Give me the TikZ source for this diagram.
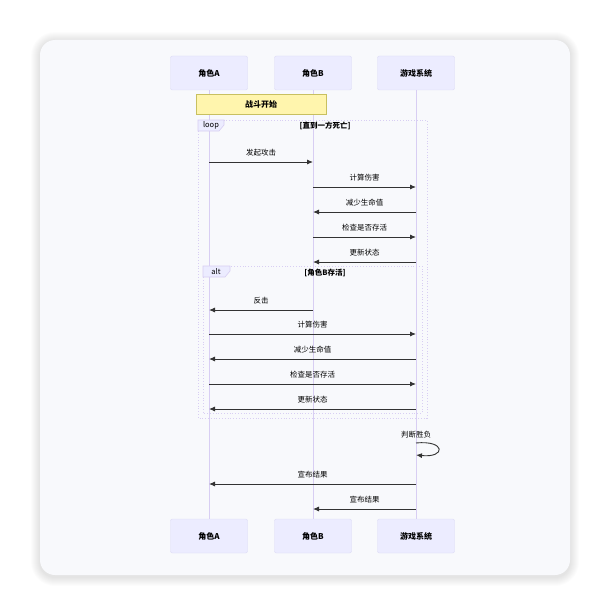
\documentclass[tikz,border=0pt]{standalone}
\usepackage{fontspec}
\setmainfont{Noto Sans CJK SC}
\usetikzlibrary{positioning,arrows.meta}
\definecolor{cardbg}{HTML}{F8F9FC}
\definecolor{actorfill}{HTML}{ECECFF}
\definecolor{actorline}{HTML}{DCDAF5}
\definecolor{lifeline}{HTML}{D8CEF3}
\definecolor{notefill}{HTML}{FFF5AD}
\definecolor{noteline}{HTML}{C8C060}
\definecolor{msgline}{HTML}{333333}
\tikzset{
  actor/.style={draw=actorline,fill=actorfill,rounded corners=2pt,minimum width=77pt,minimum height=34pt,font=\fontsize{8}{10}\selectfont\bfseries},
  life/.style={draw=lifeline,line width=1pt},
  note/.style={draw=noteline,fill=notefill,minimum width=130pt,minimum height=20pt,font=\fontsize{8}{10}\selectfont\bfseries},
  frame/.style={draw=lifeline,dotted,line width=0.8pt},
  tab/.style={fill=actorfill,draw=lifeline,line width=0.6pt},
  msg/.style={draw=msgline,line width=0.9pt,-{Latex[length=6pt,width=5pt]}},
  lbl/.style={font=\fontsize{7.5}{9}\selectfont,text=black,inner sep=1pt},
  ttl/.style={font=\fontsize{7.5}{9}\selectfont\bfseries,inner sep=1pt}
}
\begin{document}
\begin{tikzpicture}[x=1pt,y=-1pt]
\useasboundingbox (0,0) rectangle (610,615);
% card with soft shadow
\foreach \s in {1,...,9}
  \fill[black,opacity=0.012,rounded corners=15pt+\s pt] (40-\s,41-\s) rectangle (570+\s,577+\s);
\fill[cardbg,rounded corners=15pt] (40,40) rectangle (570,575);

% actors
\node[actor] (tA) at (209,73) {角色A};
\node[actor] (tB) at (313,73) {角色B};
\node[actor] (tG) at (416,73) {游戏系统};
\node[actor] (bA) at (209,536) {角色A};
\node[actor] (bB) at (313,536) {角色B};
\node[actor] (bG) at (416,536) {游戏系统};
\draw[life] (tA) -- (bA);
\draw[life] (tB) -- (bB);
\draw[life] (tG) -- (bG);

\node[note] (start) at (261,104) {战斗开始};

% loop frame
\draw[frame] (198,120) rectangle (427,418);
\draw[tab] (198,120) -- (224,120) -- (224,125) -- (219,131) -- (198,131) -- cycle;
\node[lbl] (loopTab) at (211,125.5) {loop};
\node[ttl] (loopTtl) at (325,125.5) {[直到一方死亡]};

% alt frame
\draw[frame] (203,266) rectangle (422,413);
\draw[tab] (203,266) -- (230,266) -- (230,271) -- (225,277) -- (203,277) -- cycle;
\node[lbl] (altTab) at (216,271.5) {alt};
\node[ttl] (altTtl) at (325,272.5) {[角色B存活]};

% messages
\foreach \y/\f/\t/\txt in {162/A/B/发起攻击, 187/B/G/计算伤害, 212/G/B/减少生命值,
    237/B/G/检查是否存活, 262/G/B/更新状态, 310/B/A/反击, 334/A/G/计算伤害,
    359/G/A/减少生命值, 384/A/G/检查是否存活, 409/G/A/更新状态,
    484/G/A/宣布结果, 509/G/B/宣布结果}
  \draw[msg] (t\f |- 0,\y) -- (t\t |- 0,\y) node[midway,above=4pt,lbl] {\txt};

% self message
\coordinate (selfS) at (416,443);
\coordinate (selfE) at (416,455);
\node[lbl] (judge) at (416,435) {判断胜负};
\draw[msg] (selfS) .. controls (446,440) and (446,458) .. (selfE);
\end{tikzpicture}
\end{document}
